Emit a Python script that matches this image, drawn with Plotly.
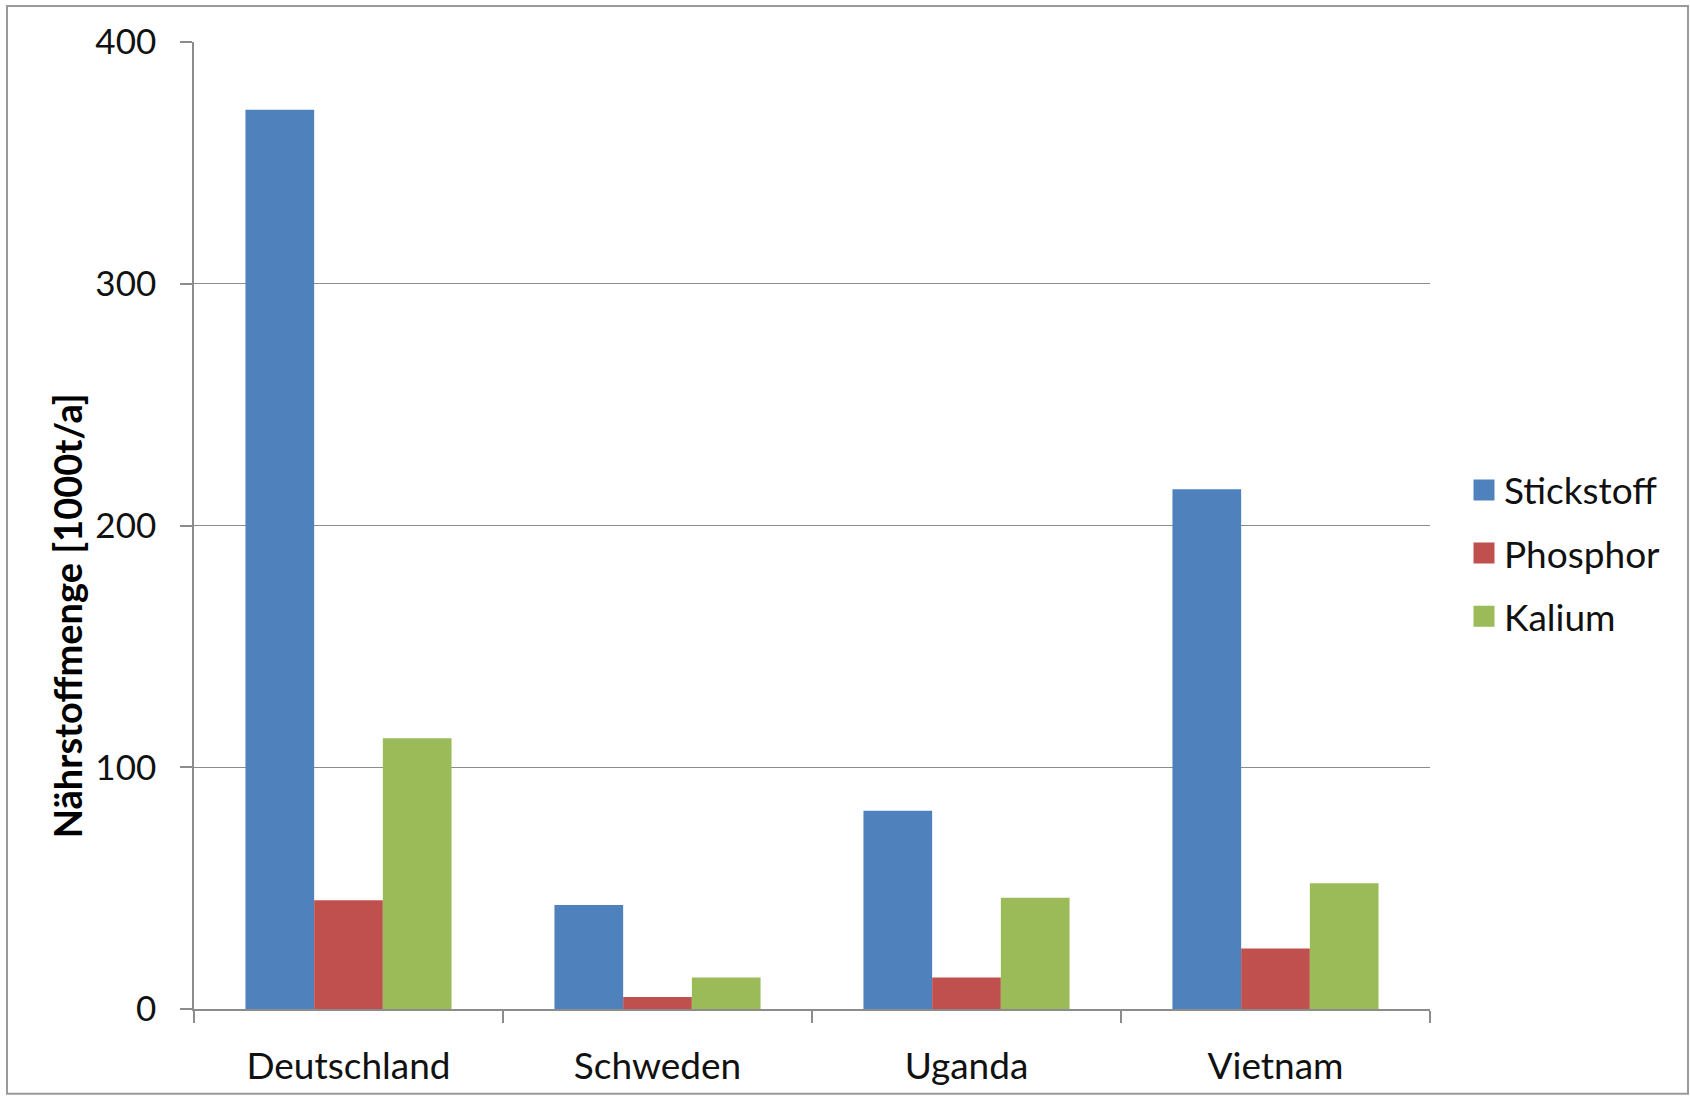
import plotly.graph_objects as go

categories = ["Deutschland", "Schweden", "Uganda", "Vietnam"]
stickstoff = [372, 43, 82, 215]
phosphor = [45, 5, 13, 25]
kalium = [112, 13, 46, 52]
series_names = ["Stickstoff", "Phosphor", "Kalium"]
colors = ["#4F81BD", "#C0504D", "#9BBB59"]
y_ticks = [0, 100, 200, 300, 400]

W, H = 1690, 1099
L, R, T, B = 194, 1430, 42, 1012
pw, ph = R - L, B - T

FONT = "Lato, 'Open Sans', sans-serif"

fig = go.Figure()
for i, (name, vals) in enumerate(zip(series_names, [stickstoff, phosphor, kalium])):
    fig.add_trace(go.Bar(
        x=categories, y=vals, name=name,
        marker=dict(color=colors[i], line=dict(width=0)),
        legendgroup=name, showlegend=False,
    ))
    # legend-only entry with a larger square swatch
    fig.add_trace(go.Scatter(
        x=[None], y=[None], name=name, mode="markers",
        marker=dict(symbol="square", size=16, color=colors[i],
                    line=dict(color=colors[i], width=5)),
        legendgroup=name, showlegend=True, hoverinfo="skip",
    ))

def px(x):
    return (x - L) / pw

def py(y):
    return (B - y) / ph

fig.update_layout(
    width=W, height=H,
    margin=dict(l=L, r=W - R, t=T, b=H - B, pad=0),
    paper_bgcolor="white", plot_bgcolor="white",
    barmode="group", bargap=0.333, bargroupgap=0,
    font=dict(family=FONT, size=35, color="#111111"),
    showlegend=True,
    legend=dict(
        x=px(1464), y=py(555), xanchor="left", yanchor="middle",
        font=dict(size=37, family=FONT),
        tracegroupgap=12, bgcolor="rgba(0,0,0,0)",
        itemwidth=30, itemsizing="trace",
    ),
    xaxis=dict(
        showgrid=False, showline=True, linecolor="#8c8c8c", linewidth=1.5,
        ticks="outside", tickson="boundaries", ticklen=12, tickcolor="#8c8c8c",
        tickwidth=1.5, tickfont=dict(size=37, family=FONT),
        ticklabelstandoff=24,
    ),
    yaxis=dict(
        range=[0, 400], tickvals=y_ticks,
        showgrid=True, gridcolor="#8c8c8c", gridwidth=1.2,
        showline=True, linecolor="#8c8c8c", linewidth=1.5,
        ticks="outside", ticklen=12, tickcolor="#8c8c8c", tickwidth=1.5,
        tickfont=dict(size=35, family=FONT),
        ticklabelstandoff=17,
        zeroline=False,
    ),
    annotations=[dict(
        text="<b>Nährstoffmenge [1000t/a]</b>",
        xref="paper", yref="paper", x=px(67), y=py(618),
        xanchor="center", yanchor="middle", textangle=-90,
        showarrow=False, font=dict(size=38, family=FONT, color="#000000"),
    )],
    shapes=[dict(
        type="rect", xref="paper", yref="paper",
        x0=px(7), x1=px(1688), y0=py(1097), y1=py(6),
        line=dict(color="#9a9a9a", width=2), fillcolor="rgba(0,0,0,0)",
        layer="below",
    )],
)

fig.write_html("out.html")
